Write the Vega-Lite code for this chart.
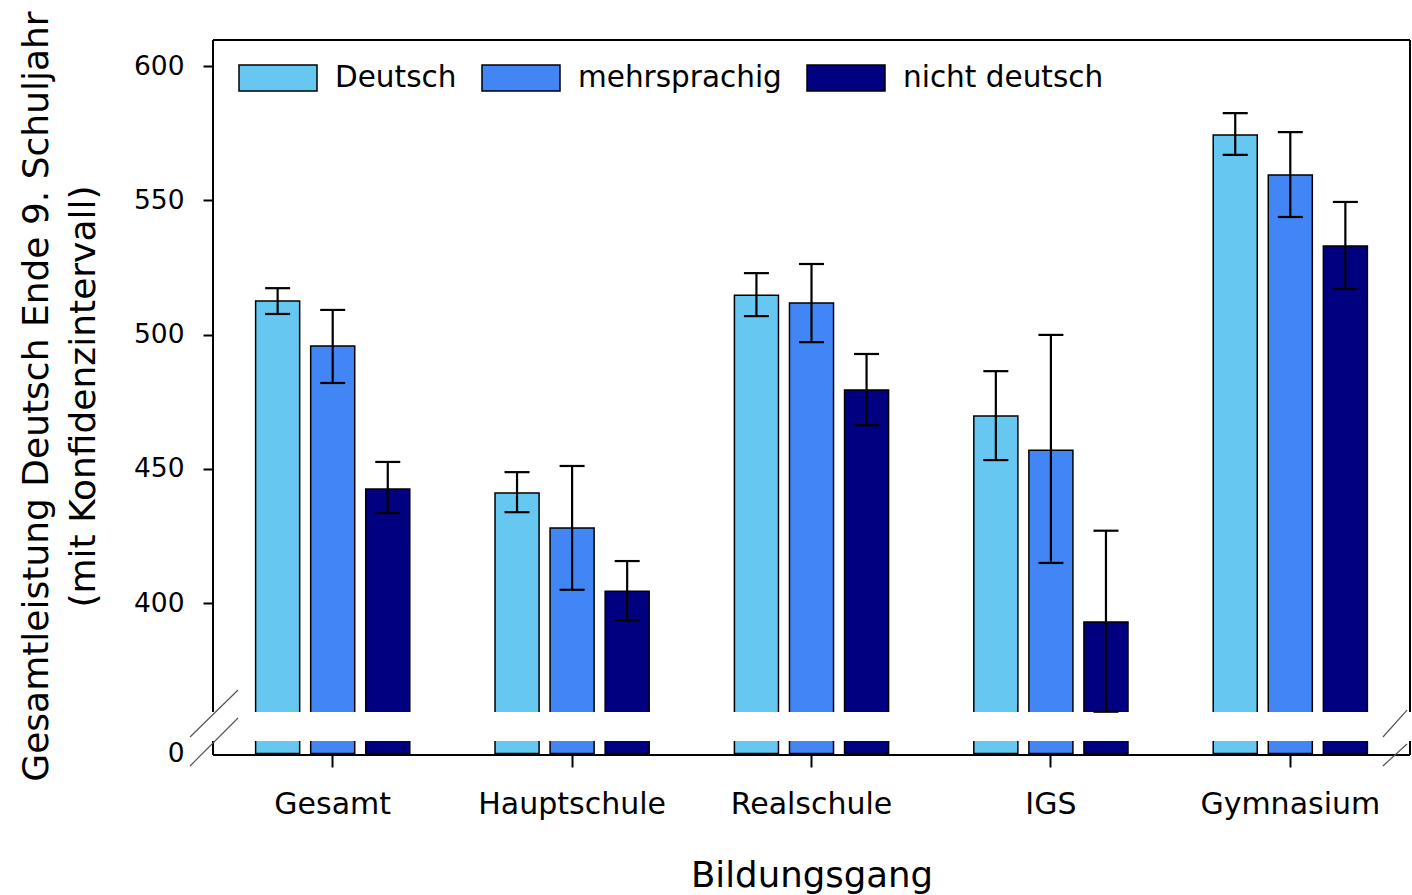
{
  "$schema": "https://vega.github.io/schema/vega-lite/v6.json",
  "width": 1197,
  "height": 715,
  "autosize": "none",
  "padding": {"left": 213, "top": 40, "right": 2, "bottom": 140},
  "background": "white",
  "config": {
    "view": {"stroke": null},
    "font": "DejaVu Sans",
    "axis": {"labelFont": "DejaVu Sans", "titleFont": "DejaVu Sans", "labelColor": "black", "titleColor": "black", "titleFontWeight": "normal", "grid": false, "domain": false, "tickColor": "black", "tickWidth": 2, "labelLimit": 0}
  },
  "data": {
    "values": [
      {"Bildungsgang": "Gesamt", "Sprache": "Deutsch", "Wert": 512.5, "lo": 507.7, "hi": 517.3},
      {"Bildungsgang": "Gesamt", "Sprache": "mehrsprachig", "Wert": 495.8, "lo": 482.0, "hi": 509.2},
      {"Bildungsgang": "Gesamt", "Sprache": "nicht deutsch", "Wert": 442.5, "lo": 433.6, "hi": 452.6},
      {"Bildungsgang": "Hauptschule", "Sprache": "Deutsch", "Wert": 441.0, "lo": 433.9, "hi": 448.8},
      {"Bildungsgang": "Hauptschule", "Sprache": "mehrsprachig", "Wert": 428.0, "lo": 405.0, "hi": 451.1},
      {"Bildungsgang": "Hauptschule", "Sprache": "nicht deutsch", "Wert": 404.5, "lo": 393.7, "hi": 415.7},
      {"Bildungsgang": "Realschule", "Sprache": "Deutsch", "Wert": 514.7, "lo": 506.9, "hi": 522.9},
      {"Bildungsgang": "Realschule", "Sprache": "mehrsprachig", "Wert": 511.8, "lo": 497.2, "hi": 526.3},
      {"Bildungsgang": "Realschule", "Sprache": "nicht deutsch", "Wert": 479.4, "lo": 466.3, "hi": 492.8},
      {"Bildungsgang": "IGS", "Sprache": "Deutsch", "Wert": 469.7, "lo": 453.3, "hi": 486.4},
      {"Bildungsgang": "IGS", "Sprache": "mehrsprachig", "Wert": 457.0, "lo": 415.0, "hi": 499.9},
      {"Bildungsgang": "IGS", "Sprache": "nicht deutsch", "Wert": 393.0, "lo": 359.6, "hi": 427.0},
      {"Bildungsgang": "Gymnasium", "Sprache": "Deutsch", "Wert": 574.3, "lo": 566.9, "hi": 582.5},
      {"Bildungsgang": "Gymnasium", "Sprache": "mehrsprachig", "Wert": 559.4, "lo": 543.8, "hi": 575.4},
      {"Bildungsgang": "Gymnasium", "Sprache": "nicht deutsch", "Wert": 533.0, "lo": 517.0, "hi": 549.4}
    ]
  },
  "resolve": {"scale": {"x": "independent", "xOffset": "independent"}},
  "layer": [
    {
      "mark": {"type": "bar", "stroke": "black", "strokeWidth": 1.5},
      "encoding": {
        "x": {"field": "Bildungsgang", "type": "nominal",
              "scale": {"domain": ["Gesamt", "Hauptschule", "Realschule", "IGS", "Gymnasium"], "paddingInner": 0.31, "paddingOuter": 0.155},
              "axis": {"title": "Bildungsgang", "labelAngle": 0, "labelFontSize": 30, "tickSize": 12, "labelPadding": 46, "labelBaseline": "alphabetic", "labelLimit": 0, "titleFontSize": 35.5, "titleY": 131, "titleBaseline": "alphabetic"}},
        "xOffset": {"field": "Sprache", "type": "nominal", "scale": {"domain": ["Deutsch", "mehrsprachig", "nicht deutsch"], "paddingInner": 0.2, "paddingOuter": 0.1}},
        "y": {"field": "Wert", "type": "quantitative",
              "scale": {"domain": [-0.5, 4.5, 359.5, 609.7], "range": [715, 701, 672, 0], "zero": false, "nice": false},
              "axis": {"values": [0, 400, 450, 500, 550, 600], "labelFontSize": 26.5, "tickSize": 10, "labelPadding": 19,
                       "tickOpacity": {"condition": {"test": "datum.value === 0", "value": 0}, "value": 1},
                       "title": ["Gesamtleistung Deutsch Ende 9. Schuljahr", "(mit Konfidenzintervall)"],
                       "titleFontSize": 36, "titleLineHeight": 47, "titleAngle": 270, "titleAlign": "center", "titleBaseline": "alphabetic", "titleX": -166, "titleY": 356}},
        "y2": {"datum": 0},
        "color": {"field": "Sprache", "type": "nominal",
                  "scale": {"domain": ["Deutsch", "mehrsprachig", "nicht deutsch"], "range": ["#66C8F0", "#4285F4", "#000080"]},
                  "legend": {"orient": "none", "legendX": 25, "legendY": -2, "direction": "horizontal", "title": null, "padding": 0,
                             "symbolType": "M-1,-0.333H1V0.333H-1Z", "symbolSize": 6084, "symbolStrokeColor": "black", "symbolStrokeWidth": 1.5, "symbolOpacity": 1,
                             "labelFont": "DejaVu Sans", "labelFontSize": 29.5, "labelColor": "black", "labelOffset": 17, "labelLimit": 0, "columnPadding": 22}}
      }
    },
    {
      "data": {"values": [{}]},
      "mark": {"type": "rect", "fill": "white", "stroke": null},
      "encoding": {
        "x": {"datum": 0, "type": "quantitative", "scale": {"domain": [0, 1], "zero": false, "nice": false}, "axis": null},
        "x2": {"datum": 1},
        "y": {"datum": 4.5, "type": "quantitative"},
        "y2": {"datum": 359.5}
      }
    },
    {
      "mark": {"type": "rule", "color": "black", "strokeWidth": 2.2},
      "encoding": {
        "x": {"field": "Bildungsgang", "type": "nominal", "scale": {"domain": ["Gesamt", "Hauptschule", "Realschule", "IGS", "Gymnasium"], "paddingInner": 0.31, "paddingOuter": 0.155}, "axis": null},
        "xOffset": {"field": "Sprache", "type": "nominal", "scale": {"domain": ["Deutsch", "mehrsprachig", "nicht deutsch"], "paddingInner": 0.2, "paddingOuter": 0.1}},
        "y": {"field": "lo", "type": "quantitative"},
        "y2": {"field": "hi"}
      }
    },
    {
      "mark": {"type": "tick", "color": "black", "size": 25, "thickness": 2.2, "opacity": 1},
      "encoding": {
        "x": {"field": "Bildungsgang", "type": "nominal", "scale": {"domain": ["Gesamt", "Hauptschule", "Realschule", "IGS", "Gymnasium"], "paddingInner": 0.31, "paddingOuter": 0.155}, "axis": null},
        "xOffset": {"field": "Sprache", "type": "nominal", "scale": {"domain": ["Deutsch", "mehrsprachig", "nicht deutsch"], "paddingInner": 0.2, "paddingOuter": 0.1}},
        "y": {"field": "lo", "type": "quantitative"}
      }
    },
    {
      "mark": {"type": "tick", "color": "black", "size": 25, "thickness": 2.2, "opacity": 1},
      "encoding": {
        "x": {"field": "Bildungsgang", "type": "nominal", "scale": {"domain": ["Gesamt", "Hauptschule", "Realschule", "IGS", "Gymnasium"], "paddingInner": 0.31, "paddingOuter": 0.155}, "axis": null},
        "xOffset": {"field": "Sprache", "type": "nominal", "scale": {"domain": ["Deutsch", "mehrsprachig", "nicht deutsch"], "paddingInner": 0.2, "paddingOuter": 0.1}},
        "y": {"field": "hi", "type": "quantitative"}
      }
    },
    {
      "data": {"values": [{}]},
      "mark": {"type": "rule", "color": "black", "strokeWidth": 2},
      "encoding": {
        "x": {"datum": 0, "type": "quantitative", "scale": {"domain": [0, 1], "zero": false, "nice": false}, "axis": null},
        "x2": {"datum": 1},
        "y": {"datum": 609.7, "type": "quantitative"}
      }
    },
    {
      "data": {"values": [{}]},
      "mark": {"type": "rule", "color": "black", "strokeWidth": 2},
      "encoding": {
        "x": {"datum": 0, "type": "quantitative", "scale": {"domain": [0, 1], "zero": false, "nice": false}, "axis": null},
        "x2": {"datum": 1},
        "y": {"datum": -0.5, "type": "quantitative"}
      }
    },
    {
      "data": {"values": [{}]},
      "mark": {"type": "rule", "color": "black", "strokeWidth": 2},
      "encoding": {
        "x": {"datum": 0, "type": "quantitative", "scale": {"domain": [0, 1], "zero": false, "nice": false}, "axis": null},
        "y": {"datum": 359.5, "type": "quantitative"},
        "y2": {"datum": 609.7}
      }
    },
    {
      "data": {"values": [{}]},
      "mark": {"type": "rule", "color": "black", "strokeWidth": 2},
      "encoding": {
        "x": {"datum": 0, "type": "quantitative", "scale": {"domain": [0, 1], "zero": false, "nice": false}, "axis": null},
        "y": {"datum": -0.5, "type": "quantitative"},
        "y2": {"datum": 4.5}
      }
    },
    {
      "data": {"values": [{}]},
      "mark": {"type": "rule", "color": "black", "strokeWidth": 2},
      "encoding": {
        "x": {"datum": 1, "type": "quantitative", "scale": {"domain": [0, 1], "zero": false, "nice": false}, "axis": null},
        "y": {"datum": 359.5, "type": "quantitative"},
        "y2": {"datum": 609.7}
      }
    },
    {
      "data": {"values": [{}]},
      "mark": {"type": "rule", "color": "black", "strokeWidth": 2},
      "encoding": {
        "x": {"datum": 1, "type": "quantitative", "scale": {"domain": [0, 1], "zero": false, "nice": false}, "axis": null},
        "y": {"datum": -0.5, "type": "quantitative"},
        "y2": {"datum": 4.5}
      }
    },
    {
      "data": {"values": [{}]},
      "mark": {"type": "rule", "color": "#555555", "strokeWidth": 1.2},
      "encoding": {
        "x": {"datum": -0.0192, "type": "quantitative", "scale": {"domain": [0, 1], "zero": false, "nice": false}, "axis": null},
        "x2": {"datum": 0.0209},
        "y": {"datum": 53.5, "type": "quantitative"},
        "y2": {"datum": 367.7}
      }
    },
    {
      "data": {"values": [{}]},
      "mark": {"type": "rule", "color": "#555555", "strokeWidth": 1.2},
      "encoding": {
        "x": {"datum": -0.0192, "type": "quantitative", "scale": {"domain": [0, 1], "zero": false, "nice": false}, "axis": null},
        "x2": {"datum": 0.0209},
        "y": {"datum": -4.43, "type": "quantitative"},
        "y2": {"datum": 286.0}
      }
    },
    {
      "data": {"values": [{}]},
      "mark": {"type": "rule", "color": "#555555", "strokeWidth": 1.2},
      "encoding": {
        "x": {"datum": 0.9774, "type": "quantitative", "scale": {"domain": [0, 1], "zero": false, "nice": false}, "axis": null},
        "x2": {"datum": 0.9975},
        "y": {"datum": 53.5, "type": "quantitative"},
        "y2": {"datum": 360.2}
      }
    },
    {
      "data": {"values": [{}]},
      "mark": {"type": "rule", "color": "#555555", "strokeWidth": 1.2},
      "encoding": {
        "x": {"datum": 0.9774, "type": "quantitative", "scale": {"domain": [0, 1], "zero": false, "nice": false}, "axis": null},
        "x2": {"datum": 0.9975},
        "y": {"datum": -4.43, "type": "quantitative"},
        "y2": {"datum": 3.43}
      }
    }
  ]
}
